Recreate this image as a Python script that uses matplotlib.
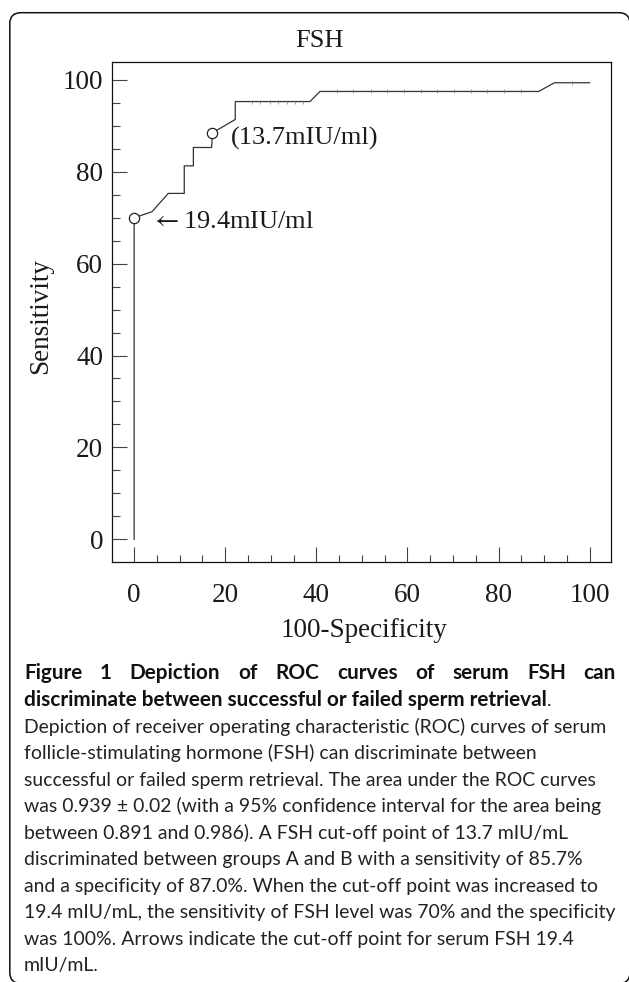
import matplotlib
matplotlib.use('Agg')
import matplotlib.pyplot as plt
from matplotlib.patches import FancyBboxPatch
from matplotlib.ticker import MultipleLocator
from matplotlib.transforms import IdentityTransform

plt.rcParams['mathtext.fontset'] = 'stix'

# ---------------- data ----------------
fpr = [0, 0, 3.9, 7.5, 11.0, 11.0, 13.0, 13.0, 17.0, 17.2, 22.2, 22.2, 38.6, 40.8, 88.8, 92.3, 100]
sens = [0, 70, 71.3, 75.3, 75.3, 81.3, 81.3, 85.3, 85.3, 88.5, 91.4, 95.3, 95.3, 97.5, 97.5, 99.4, 99.4]
cut_fpr = [0, 17.2]
cut_sens = [70, 88.5]
cut_labels = [r"$\leftarrow$19.4mIU/ml", "(13.7mIU/ml)"]
mark_fpr = [25.8, 27.7, 29.9, 31.6, 33.5, 35.3, 37.1,
            44.5, 48.1, 52.0, 55.6, 59.2, 62.9, 66.5, 70.2, 73.9, 77.4, 81.1, 84.9, 96.1]
mark_sens = [95.3] * 7 + [97.5] * 12 + [99.4]
x_ticks = [0, 20, 40, 60, 80, 100]
y_ticks = [0, 20, 40, 60, 80, 100]
title = "FSH"
xlabel = "100-Specificity"
ylabel = "Sensitivity"

cap_bold_1 = "Figure 1 Depiction of ROC curves of serum FSH can"
cap_bold_2 = "discriminate between successful or failed sperm retrieval"
cap_body = [
    "Depiction of receiver operating characteristic (ROC) curves of serum",
    "follicle-stimulating hormone (FSH) can discriminate between",
    "successful or failed sperm retrieval. The area under the ROC curves",
    "was 0.939 \u00b1 0.02 (with a 95% confidence interval for the area being",
    "between 0.891 and 0.986). A FSH cut-off point of 13.7 mIU/mL",
    "discriminated between groups A and B with a sensitivity of 85.7%",
    "and a specificity of 87.0%. When the cut-off point was increased to",
    "19.4 mIU/mL, the sensitivity of FSH level was 70% and the specificity",
    "was 100%. Arrows indicate the cut-off point for serum FSH 19.4",
    "mIU/mL.",
]

# ---------------- layout ----------------
W, H = 629, 982
fig = plt.figure(figsize=(W / 100, H / 100), dpi=100)
fig.patch.set_facecolor('white')


def fx(px):
    return px / W


def fy(py):
    return 1 - py / H


serif = ['Liberation Serif', 'DejaVu Serif']
sans = ['Lato', 'DejaVu Sans']
tc = '#1a1a1a'

# outer rounded border (pixel coordinates)
border = FancyBboxPatch((9.8, -1.5), 620.5 - 9.8 + 9.5, 969.3 + 1.5,
                        boxstyle="round,pad=0,rounding_size=11",
                        transform=IdentityTransform(), fill=False,
                        edgecolor='#111111', linewidth=1.1)
fig.patches.append(border)
border.set_figure(fig)

ax = fig.add_axes([fx(112.3), fy(561.7), fx(611) - fx(112.3), fy(62.3) - fy(561.7)])
ax.plot(fpr, sens, color='#333333', linewidth=0.9, zorder=2)
ax.plot(mark_fpr, mark_sens, linestyle='none', marker='|', markersize=2.6,
        markeredgewidth=0.5, color='#777777', zorder=2)
ax.plot(cut_fpr, cut_sens, linestyle='none', marker='o', markersize=7.4,
        markerfacecolor='white', markeredgecolor='#222222', markeredgewidth=0.9, zorder=3)

ax.text(3.7, 67.8, cut_labels[0], fontsize=19, family=serif, color=tc, va='baseline', ha='left')
ax.text(21.3, 85.85, cut_labels[1], fontsize=19, family=serif, color=tc, va='baseline', ha='left')

ax.set_xlim(-4.8, 104.7)
ax.set_ylim(-4.9, 103.85)
ax.set_xticks(x_ticks)
ax.set_yticks(y_ticks)
ax.xaxis.set_minor_locator(MultipleLocator(5))
ax.yaxis.set_minor_locator(MultipleLocator(5))
ax.tick_params(axis='both', which='both', direction='in', color='#444444', width=0.8)
ax.tick_params(axis='both', which='major', length=10.8)
ax.tick_params(axis='both', which='minor', length=5.4)
ax.tick_params(axis='x', which='major', pad=15.5)
ax.tick_params(axis='y', which='major', pad=6.5)
for lab in ax.get_xticklabels() + ax.get_yticklabels():
    lab.set_fontfamily(serif)
    lab.set_fontsize(19.5)
    lab.set_color(tc)
for sp in ax.spines.values():
    sp.set_linewidth(0.9)
    sp.set_color('#111111')

ax.set_xlabel(xlabel, fontsize=19.5, family=serif, color=tc)
ax.set_ylabel(ylabel, fontsize=19.5, family=serif, color=tc)
ax.xaxis.set_label_coords(0.505, -0.113)
ax.yaxis.set_label_coords(-0.119, 0.492)

fig.text(fx(319), fy(47.3), title, fontsize=19, family=serif, color=tc,
         ha='center', va='baseline')

# ---------------- caption ----------------
renderer = fig.canvas.get_renderer()


def text_width(s, **kw):
    t = fig.text(0, 0, s, **kw)
    w = t.get_window_extent(renderer).width
    t.remove()
    return w


left_px = 24.0
right_px = 616.0

ref_w = text_width(cap_body[7], fontsize=14, family=sans)
body_size = 14 * (right_px - left_px) / ref_w
ref_wb = text_width(cap_bold_2, fontsize=14, family=sans, weight='bold')
bold_size = 14 * (550 - left_px) / ref_wb

words = cap_bold_1.split()
widths = [text_width(w_, fontsize=bold_size, family=sans, weight='bold') for w_ in words]
gap = ((right_px - left_px) - sum(widths)) / (len(words) - 1)
xcur = left_px
for w_, wd in zip(words, widths):
    fig.text(fx(xcur), fy(679.3), w_, fontsize=bold_size, family=sans, weight='bold',
             color='#111111', ha='left', va='baseline')
    xcur += wd + gap

fig.text(fx(left_px), fy(705.8), cap_bold_2, fontsize=bold_size, family=sans, weight='bold',
         color='#111111', ha='left', va='baseline')
w2 = text_width(cap_bold_2, fontsize=bold_size, family=sans, weight='bold')
fig.text(fx(left_px + w2), fy(705.8), ".", fontsize=body_size, family=sans,
         color='#222222', ha='left', va='baseline')

for i, line in enumerate(cap_body):
    fig.text(fx(left_px), fy(732.7 + 26.5 * i), line, fontsize=body_size, family=sans,
             color='#222222', ha='left', va='baseline')

fig.savefig('out.png', dpi=100, facecolor='white')
